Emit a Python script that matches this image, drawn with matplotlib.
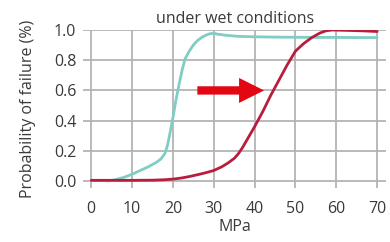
import numpy as np
import matplotlib
matplotlib.use("Agg")
import matplotlib.pyplot as plt

# values
mpa_dry = [4, 6, 8, 10, 12, 14, 16, 17, 18, 18.7, 19.3, 20, 20.7, 21.5, 22.3, 23, 24, 25, 26, 27, 28, 29, 30, 31, 33, 36, 40, 45, 50, 55, 60, 65, 70]
p_dry = [0.0, 0.01, 0.025, 0.045, 0.07, 0.095, 0.125, 0.145, 0.18, 0.24, 0.32, 0.42, 0.53, 0.64, 0.74, 0.81, 0.86, 0.9, 0.93, 0.95, 0.965, 0.975, 0.978, 0.972, 0.965, 0.958, 0.955, 0.953, 0.952, 0.951, 0.951, 0.95, 0.95]

mpa_wet = [0, 5, 10, 15, 18, 20, 22, 24, 26, 28, 30, 32, 33.5, 35, 36, 37, 38.5, 40, 42, 44, 46, 48, 50, 52, 54, 56, 57.5, 59, 62, 66, 70]
p_wet = [0.005, 0.005, 0.005, 0.006, 0.009, 0.013, 0.02, 0.03, 0.042, 0.055, 0.07, 0.095, 0.12, 0.15, 0.18, 0.22, 0.29, 0.36, 0.46, 0.57, 0.67, 0.77, 0.86, 0.91, 0.95, 0.98, 0.995, 1.0, 0.998, 0.995, 0.99]

xticks = [0, 10, 20, 30, 40, 50, 60, 70]
yticks = [0.0, 0.2, 0.4, 0.6, 0.8, 1.0]

plt.rcParams['font.family'] = ['Open Sans', 'DejaVu Sans']
txt = '#3a3a3a'
fs = 11.5

fig = plt.figure(figsize=(3.9, 2.42), dpi=100)
ax = fig.add_axes([0.213, 0.223, 0.777, 0.653])

ax.plot(mpa_dry, p_dry, color='#7fcdc3', lw=2, solid_capstyle='round', zorder=3)
ax.plot(mpa_wet, p_wet, color='#b81d3e', lw=2, solid_capstyle='round', zorder=4)

ax.annotate('', xy=(43, 0.6), xytext=(25.3, 0.6),
            arrowprops=dict(arrowstyle='simple,head_length=1.8,head_width=1.8,tail_width=0.6',
                            color='#e30613', lw=0), zorder=5)

ax.set_xlim(-2.0, 72.2)
ax.set_ylim(-0.046, 1.0)
ax.set_xticks(xticks)
ax.set_yticks(yticks)
ax.set_yticklabels(['%.1f' % v for v in yticks])
ax.grid(True, color='#b4b4b4', lw=1.3)
ax.set_axisbelow(True)
for s in ax.spines.values():
    s.set_visible(False)
ax.tick_params(length=0, labelsize=fs, colors=txt, pad=5)
ax.tick_params(axis='x', pad=9)

ax.set_xlabel('MPa', fontsize=fs, color=txt, labelpad=2)
ax.set_ylabel('Probability of failure (%)', fontsize=fs, color=txt, labelpad=13)
ax.set_title('under wet conditions', fontsize=fs, color=txt, pad=5)

fig.savefig('out.png', dpi=100)
